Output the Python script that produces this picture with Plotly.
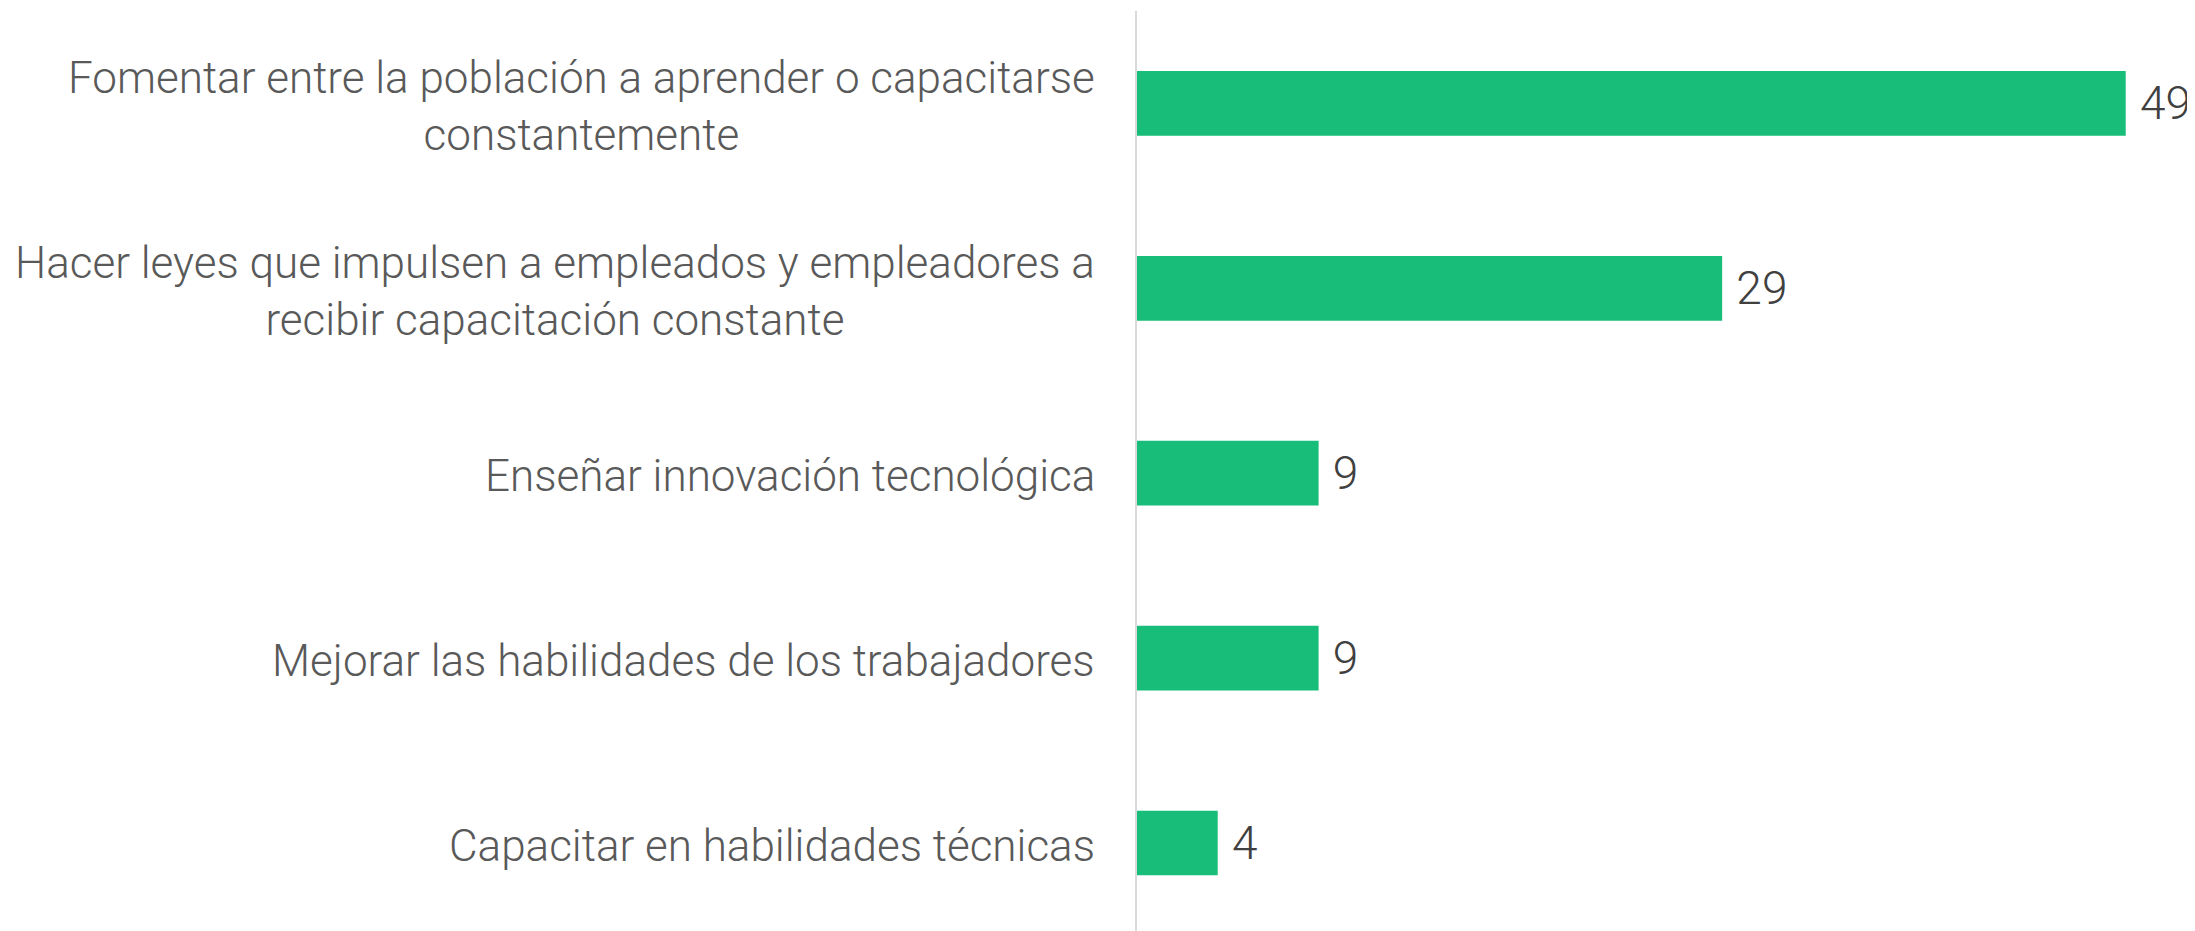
import plotly.graph_objects as go

categories = [
    "Fomentar entre la población a aprender o capacitarse<br>constantemente",
    "Hacer leyes que impulsen a empleados y empleadores a<br>recibir capacitación constante",
    "Enseñar innovación tecnológica",
    "Mejorar las habilidades de los trabajadores",
    "Capacitar en habilidades técnicas",
]
values = [49, 29, 9, 9, 4]

BAR_COLOR = "#17BD78"
LABEL_COLOR = "#595959"
VALUE_COLOR = "#404040"
FONT = "Roboto"

fig = go.Figure()
fig.add_trace(go.Bar(
    x=values,
    y=categories,
    orientation="h",
    marker=dict(color=BAR_COLOR, line=dict(width=0)),
    text=["\u00a0" + str(v) for v in values],
    textposition="outside",
    textfont=dict(family=FONT, size=46, color=VALUE_COLOR, weight=300),
    cliponaxis=False,
    width=0.35,
))

for c in categories:
    fig.add_annotation(
        x=0, xref="paper", xanchor="right", xshift=-40,
        y=c, yref="y", yanchor="middle", yshift=-3,
        text=c, align="center", showarrow=False,
        font=dict(family=FONT, size=44, color=LABEL_COLOR, weight=300),
    )

# page body has an 8px margin, so compensate
fig.update_layout(
    width=2187, height=923,
    margin=dict(l=1129, r=37, t=3, b=0),
    plot_bgcolor="white", paper_bgcolor="white",
    showlegend=False,
)
fig.update_xaxes(range=[0, 50.6], visible=False, showgrid=False, zeroline=False)
fig.update_yaxes(
    categoryorder="array", categoryarray=categories,
    range=[4.476, -0.5],
    showticklabels=False, ticks="", showgrid=False, zeroline=False,
    showline=True, linecolor="#d9d9d9", linewidth=2,
)

fig.write_html("out.html")
